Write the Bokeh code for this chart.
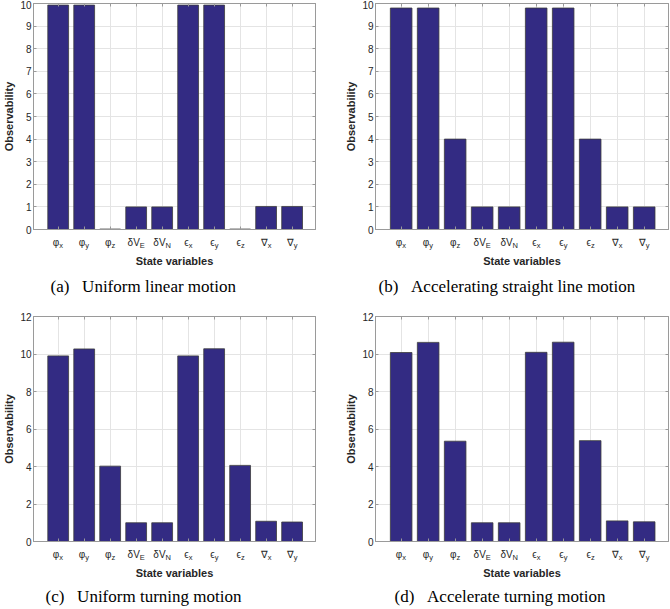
from bokeh.plotting import figure
from bokeh.layouts import column, row
from bokeh.models import FixedTicker, LinearAxis, Range1d, ColumnDataSource, Title
from bokeh.embed import file_html
from bokeh.resources import INLINE
from bokeh.core.properties import value

# ---- data ----
state_main = ["φ", "φ", "φ", "δV", "δV", "ϵ", "ϵ", "ϵ", "∇", "∇"]
state_sub = ["x", "y", "z", "E", "N", "x", "y", "z", "x", "y"]
positions = [1, 2, 3, 4, 5, 6, 7, 8, 9, 10]
obs_a = [9.93, 9.93, 0.02, 1.0, 1.0, 9.93, 9.93, 0.02, 1.02, 1.02]
obs_b = [9.80, 9.80, 4.0, 1.0, 1.0, 9.80, 9.80, 4.0, 1.0, 1.0]
obs_c = [9.90, 10.27, 4.02, 1.0, 1.0, 9.90, 10.28, 4.06, 1.08, 1.04]
obs_d = [10.08, 10.62, 5.35, 1.0, 1.0, 10.09, 10.63, 5.38, 1.1, 1.05]
captions = ["(a)\u00a0\u00a0\u00a0Uniform linear motion",
            "(b)\u00a0\u00a0\u00a0Accelerating straight line motion",
            "(c)\u00a0\u00a0\u00a0Uniform turning motion",
            "(d)\u00a0\u00a0\u00a0Accelerate turning motion"]
x_label = "State variables"
y_label = "Observability"

# ---- style ----
BAR = "#332b83"
EDGE = "#3c3c3c"
AXC = "#9a9a9a"
GRID = "#e4e4e4"
TXT = "#262626"
SANS = "Liberation Sans"
SERIF = "Liberation Serif"

main_w = {"φ": 5.9, "δV": 12.3, "ϵ": 5.0, "∇": 7.0}
sub_w = {"x": 3.8, "y": 3.8, "z": 3.4, "E": 5.0, "N": 5.4}
split = [(main_w[m] - sub_w[s]) / 2.0 for m, s in zip(state_main, state_sub)]


def style_axis(ax):
    ax.axis_line_color = AXC
    ax.major_tick_line_color = AXC
    ax.major_tick_in = 3
    ax.major_tick_out = 0
    ax.minor_tick_line_color = None
    ax.axis_label_text_font = SANS
    ax.axis_label_text_font_style = "bold"
    ax.axis_label_text_font_size = "11px"
    ax.axis_label_text_color = TXT
    ax.major_label_text_font = SANS
    ax.major_label_text_font_size = "10px"
    ax.major_label_text_color = TXT


def panel(vals, ymax, ystep, caption, w, h, bl, br, bt, bb, cap_off, cap_standoff):
    p = figure(width=w, height=h, x_range=Range1d(0.05, 10.9), y_range=Range1d(0, ymax),
               output_backend="svg", toolbar_location=None,
               min_border_left=bl, min_border_right=br, min_border_top=bt, min_border_bottom=bb)
    p.background_fill_color = "white"
    p.border_fill_color = "white"
    p.outline_line_color = AXC
    p.outline_line_width = 1

    p.vbar(x=positions, top=vals, bottom=0, width=0.8, fill_color=BAR, line_color=EDGE, line_width=0.8)

    yt = list(range(0, ymax + 1, ystep))
    p.yaxis.ticker = FixedTicker(ticks=yt)
    p.xaxis.ticker = FixedTicker(ticks=positions)
    p.xgrid.ticker = FixedTicker(ticks=positions)
    p.ygrid.ticker = FixedTicker(ticks=yt)
    p.grid.grid_line_color = GRID
    p.grid.grid_line_width = 1

    style_axis(p.xaxis[0])
    style_axis(p.yaxis[0])

    p.yaxis.axis_label = y_label
    p.yaxis.major_label_standoff = 2
    p.yaxis.axis_label_standoff = 2
    p.xaxis.axis_label = x_label
    p.xaxis.major_label_overrides = {i: "" for i in positions}
    p.xaxis.major_label_standoff = 0
    p.xaxis.axis_label_standoff = 25

    top_ax = LinearAxis(ticker=FixedTicker(ticks=positions),
                        major_label_overrides={i: "" for i in positions})
    right_ax = LinearAxis(ticker=FixedTicker(ticks=yt),
                          major_label_overrides={t: "" for t in yt})
    for ax in (top_ax, right_ax):
        style_axis(ax)
        ax.major_label_standoff = 0
    p.add_layout(top_ax, "above")
    p.add_layout(right_ax, "right")

    src = ColumnDataSource(dict(x=positions, y=[0] * len(positions), main=state_main,
                                sub=state_sub, dx=split))
    p.text(x="x", y="y", text="main", source=src, x_offset="dx", y_offset=13,
           text_align="right", text_baseline="middle", text_font=value(SANS),
           text_font_size="10px", text_color=TXT, level="annotation")
    p.text(x="x", y="y", text="sub", source=src, x_offset="dx", y_offset=16,
           text_align="left", text_baseline="middle", text_font=value(SANS),
           text_font_size="7.5px", text_color=TXT, level="annotation")

    p.add_layout(Title(text=caption, align="left", offset=cap_off, text_font=SERIF,
                       text_font_size="17px", text_font_style="normal", text_color="black",
                       standoff=cap_standoff), "below")
    return p


pa = panel(obs_a, 10, 1, captions[0], 335, 300, 21, 20, 3, 60, 17, 10)
pb = panel(obs_b, 10, 1, captions[1], 335, 300, 40, 2, 3, 60, 3, 10)
pc = panel(obs_c, 12, 2, captions[2], 335, 308, 21, 20, 16, 60, 12, 6)
pd = panel(obs_d, 12, 2, captions[3], 335, 308, 40, 2, 16, 60, 19, 6)

layout = column(row(pa, pb), row(pc, pd))
open("out.html", "w").write(file_html(layout, INLINE))
